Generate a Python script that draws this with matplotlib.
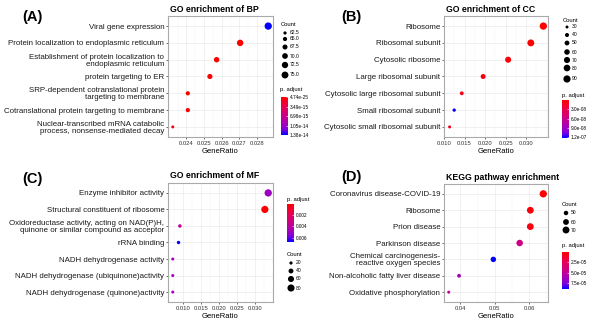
import numpy as np
import matplotlib
matplotlib.use("Agg")
import matplotlib.pyplot as plt
from matplotlib.colors import LinearSegmentedColormap, Normalize
from matplotlib.cm import ScalarMappable
from matplotlib.ticker import MultipleLocator

W, H = 600, 331
FONT = "Liberation Sans"

# (A) GO BP
bp_terms = ["Viral gene expression",
            "Protein localization to endoplasmic reticulum",
            "Establishment of protein localization to\nendoplasmic reticulum",
            "protein targeting to ER",
            "SRP-dependent cotranslational protein\ntargeting to membrane",
            "Cotranslational protein targeting to membrane",
            "Nuclear-transcribed mRNA catabolic\nprocess, nonsense-mediated decay"]
bp_ratio = [0.02863, 0.02704, 0.02571, 0.02533, 0.02408, 0.02408, 0.02323]
bp_count = [77, 73, 69, 68, 65, 65, 62]
bp_padj = [1.39e-14, 2e-17, 1e-18, 1e-18, 1e-21, 1e-21, 1e-19]
bp_xticks = [0.024, 0.025, 0.026, 0.027, 0.028]
bp_xlabels = ["0.024", "0.025", "0.026", "0.027", "0.028"]
bp_size_breaks = [62.5, 65.0, 67.5, 70.0, 72.5, 75.0]
bp_size_labels = ["62.5", "65.0", "67.5", "70.0", "72.5", "75.0"]
bp_padj_ticks = [4.74e-25, 3.49e-15, 6.98e-15, 1.05e-14, 1.38e-14]
bp_padj_labels = ["4.74e-25", "3.49e-15", "6.98e-15", "1.05e-14", "1.38e-14"]

# (B) GO CC
cc_terms = ["Ribosome", "Ribosomal subunit", "Cytosolic ribosome",
            "Large ribosomal subunit", "Cytosolic large ribosomal subunit",
            "Small ribosomal subunit", "Cytosolic small ribosomal subunit"]
cc_ratio = [0.03416, 0.03112, 0.0256, 0.01952, 0.01432, 0.01248, 0.01136]
cc_count = [92, 84, 69, 52, 38, 33, 30]
cc_padj = [1e-10, 1e-9, 3e-9, 5e-9, 9e-9, 1.23e-7, 1.2e-8]
cc_xticks = [0.010, 0.015, 0.020, 0.025, 0.030]
cc_xlabels = ["0.010", "0.015", "0.020", "0.025", "0.030"]
cc_size_breaks = [30, 40, 50, 60, 70, 80, 90]
cc_size_labels = ["30", "40", "50", "60", "70", "80", "90"]
cc_padj_ticks = [3.0e-8, 6.0e-8, 9.0e-8, 1.2e-7]
cc_padj_labels = ["3.0e-08", "6.0e-08", "9.0e-08", "1.2e-07"]

# (C) GO MF
mf_terms = ["Enzyme inhibitor activity",
            "Structural constituent of ribosome",
            "Oxidoreductase activity, acting on NAD(P)H,\nquinone or similar compound as acceptor",
            "rRNA binding",
            "NADH dehydrogenase activity",
            "NADH dehydrogenase (ubiquinone)activity",
            "NADH dehydrogenase (quinone)activity"]
mf_ratio = [0.03355, 0.03262, 0.00916, 0.00879, 0.0072, 0.0072, 0.0072]
mf_count = [84, 82, 23, 22, 18, 18, 18]
mf_padj = [0.0050, 0.00001, 0.0036, 0.0068, 0.0048, 0.0048, 0.0048]
mf_xticks = [0.010, 0.015, 0.020, 0.025, 0.030]
mf_xlabels = ["0.010", "0.015", "0.020", "0.025", "0.030"]
mf_size_breaks = [20, 40, 60, 80]
mf_size_labels = ["20", "40", "60", "80"]
mf_padj_ticks = [0.002, 0.004, 0.006]
mf_padj_labels = ["0.002", "0.004", "0.006"]

# (D) KEGG
kegg_terms = ["Coronavirus disease-COVID-19", "Ribosome", "Prion disease",
              "Parkinson disease",
              "Chemical carcinogenesis-\nreactive oxygen species",
              "Non-alcoholic fatty liver disease",
              "Oxidative phosphorylation"]
kegg_ratio = [0.06417, 0.06039, 0.06039, 0.05728, 0.04961, 0.03961, 0.0366]
kegg_count = [74, 69, 69, 66, 57, 46, 42]
kegg_padj = [1e-7, 3e-6, 4e-6, 4.2e-5, 9.0e-5, 6.3e-5, 5.0e-5]
kegg_xticks = [0.04, 0.05, 0.06]
kegg_xlabels = ["0.04", "0.05", "0.06"]
kegg_size_breaks = [50, 60, 70]
kegg_size_labels = ["50", "60", "70"]
kegg_padj_ticks = [2.5e-5, 5.0e-5, 7.5e-5]
kegg_padj_labels = ["2.5e-05", "5.0e-05", "7.5e-05"]

# red -> blue, roughly the Lab interpolation ggplot uses
cmap = LinearSegmentedColormap.from_list(
    "padj", [(0, "#FF0000"), (0.25, "#E8004F"), (0.5, "#CA0089"),
             (0.75, "#9A00C3"), (0.875, "#7300E0"), (1, "#0000FF")])


def fig_rect(x0, y0, x1, y1):
    return [x0 / W, 1 - y1 / H, (x1 - x0) / W, (y1 - y0) / H]


def dot_area(count, lo, hi):
    # marker area linear in count, from ~3px to ~7.3px wide
    s_lo, s_hi = (3.0 * 0.72) ** 2, (7.3 * 0.72) ** 2
    c = np.asarray(count, dtype=float)
    return s_lo + (c - lo) / (hi - lo) * (s_hi - s_lo)


def draw_panel(fig, ov, box, letter, letter_xy, title, terms, ratio, count,
               padj, padj_lim, xticks, xlabels, step):
    ax = fig.add_axes(fig_rect(*box))
    n = len(terms)
    ypos = np.arange(n)[::-1]
    lo, hi = min(count), max(count)
    ax.scatter(ratio, ypos, s=dot_area(count, lo, hi), c=padj, cmap=cmap,
               norm=Normalize(*padj_lim), linewidths=0, zorder=3)
    r0, r1 = min(ratio), max(ratio)
    pad = (r1 - r0) * 0.05
    ax.set_xlim(r0 - pad, r1 + pad)
    ax.set_ylim(-0.6, n - 0.4)
    ax.set_xticks(xticks, labels=xlabels)
    ax.xaxis.set_minor_locator(MultipleLocator(step / 2))
    ax.set_yticks(ypos, labels=terms)
    ax.tick_params(axis="y", labelsize=5.7, length=1.5, width=0.5,
                   color="#333333", pad=1.2, labelcolor="#1A1A1A")
    ax.tick_params(axis="x", labelsize=4.2, length=1.5, width=0.5,
                   color="#333333", pad=1.2, labelcolor="#333333")
    ax.tick_params(which="minor", length=0)
    for lab in ax.get_yticklabels():
        lab.set_linespacing(1.0)
    ax.grid(True, which="major", color="#EBEBEB", lw=0.5, zorder=0)
    ax.grid(True, which="minor", axis="x", color="#F4F4F4", lw=0.3, zorder=0)
    ax.set_axisbelow(True)
    for sp in ax.spines.values():
        sp.set_color("#AAAAAA")
        sp.set_linewidth(0.8)
    ax.set_xlabel("GeneRatio", fontsize=5.5, labelpad=1.5)
    ov.text(box[0] + 2, box[1] - 7, title, fontsize=6.3, fontweight="bold",
            ha="left", va="center")
    ov.text(letter_xy[0], letter_xy[1], letter, fontsize=10.5,
            fontweight="bold", ha="left", va="center")
    return lo, hi


def draw_count_legend(ov, x, title_y, dot_y, breaks, labels, lo, hi):
    ov.text(x - 4, title_y, "Count", fontsize=4.2, ha="left", va="center")
    ov.scatter([x] * len(breaks), dot_y, s=dot_area(breaks, lo, hi),
               c="black", linewidths=0)
    for yy, lab in zip(dot_y, labels):
        ov.text(x + 5, yy, lab, fontsize=3.6, ha="left", va="center")


def draw_padj_legend(fig, ov, x, title_y, bar, lim, ticks, labels):
    ov.text(x, title_y, "p. adjust", fontsize=4.2, ha="left", va="center")
    cax = fig.add_axes(fig_rect(*bar))
    cb = fig.colorbar(ScalarMappable(norm=Normalize(*lim), cmap=cmap), cax=cax)
    cax.invert_yaxis()
    cb.set_ticks(ticks, labels=labels)
    cax.tick_params(labelsize=3.4, length=1.5, width=0.4, direction="in",
                    color="white", pad=1.5)
    cb.outline.set_visible(False)


plt.rcParams["font.family"] = [FONT, "DejaVu Sans"]
fig = plt.figure(figsize=(W / 100, H / 100), dpi=100)
ov = fig.add_axes([0, 0, 1, 1])
ov.set_xlim(0, W)
ov.set_ylim(H, 0)
ov.axis("off")

# (A)
lo, hi = draw_panel(fig, ov, (168, 16, 273, 137), "(A)", (22, 17),
                    "GO enrichment of BP", bp_terms, bp_ratio, bp_count,
                    bp_padj, (0, 1.39e-14), bp_xticks, bp_xlabels, 0.001)
draw_count_legend(ov, 285, 24, [33, 39, 47, 56, 65, 75],
                  bp_size_breaks, bp_size_labels, lo, hi)
draw_padj_legend(fig, ov, 280, 90, (281, 97, 287.5, 135), (0, 1.39e-14),
                 bp_padj_ticks, bp_padj_labels)

# (B)
lo, hi = draw_panel(fig, ov, (444, 16, 548, 137), "(B)", (341, 17),
                    "GO enrichment of CC", cc_terms, cc_ratio, cc_count,
                    cc_padj, (1e-10, 1.23e-7), cc_xticks, cc_xlabels, 0.005)
draw_count_legend(ov, 567, 20, [27, 35, 43, 52, 60, 68, 79],
                  cc_size_breaks, cc_size_labels, lo, hi)
draw_padj_legend(fig, ov, 562, 95, (562, 100, 568.5, 138), (1e-10, 1.23e-7),
                 cc_padj_ticks, cc_padj_labels)

# (C)
lo, hi = draw_panel(fig, ov, (168, 183, 273, 302), "(C)", (22, 179),
                    "GO enrichment of MF", mf_terms, mf_ratio, mf_count,
                    mf_padj, (0, 0.0068), mf_xticks, mf_xlabels, 0.005)
draw_padj_legend(fig, ov, 287, 199, (287, 204, 294, 242), (0, 0.0068),
                 mf_padj_ticks, mf_padj_labels)
draw_count_legend(ov, 291, 255, [263, 271, 279, 288],
                  mf_size_breaks, mf_size_labels, lo, hi)

# (D)
lo, hi = draw_panel(fig, ov, (444, 184, 548, 302), "(D)", (341, 177),
                    "KEGG pathway enrichment", kegg_terms, kegg_ratio,
                    kegg_count, kegg_padj, (0, 9.0e-5), kegg_xticks,
                    kegg_xlabels, 0.01)
draw_count_legend(ov, 566, 205, [213, 222, 230],
                  kegg_size_breaks, kegg_size_labels, lo, hi)
draw_padj_legend(fig, ov, 562, 246, (562, 252, 568.5, 289), (0, 9.0e-5),
                 kegg_padj_ticks, kegg_padj_labels)

fig.savefig("out.png", dpi=100)
plt.close(fig)
